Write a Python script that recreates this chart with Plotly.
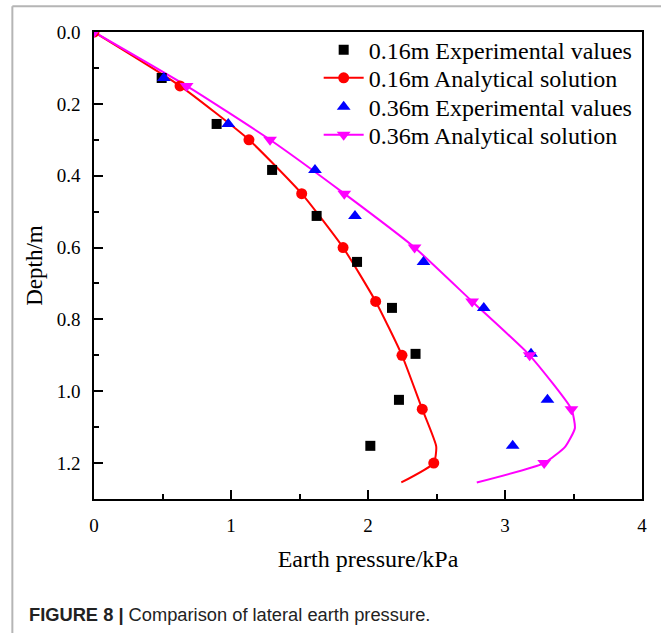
import plotly.graph_objects as go

# ---- data ----
exp16_depth = [0.128, 0.256, 0.384, 0.512, 0.640, 0.768, 0.896, 1.024, 1.152]
exp16_press = [0.494, 0.895, 1.300, 1.625, 1.920, 2.175, 2.347, 2.226, 2.017]

exp36_depth = [0.128, 0.256, 0.384, 0.512, 0.640, 0.768, 0.896, 1.024, 1.152]
exp36_press = [0.510, 0.980, 1.613, 1.905, 2.405, 2.845, 3.190, 3.310, 3.056]

# analytical solution: marked points
ana16_depth = [0.0, 0.15, 0.30, 0.45, 0.60, 0.75, 0.90, 1.05, 1.20]
ana16_press = [0.0, 0.628, 1.131, 1.516, 1.818, 2.056, 2.248, 2.396, 2.480]
ana36_depth = [0.0, 0.15, 0.30, 0.45, 0.60, 0.75, 0.90, 1.05, 1.20]
ana36_press = [0.0, 0.676, 1.285, 1.827, 2.340, 2.760, 3.180, 3.485, 3.286]

# analytical solution: full curve (includes unmarked vertices)
curve16_depth = [0.0, 0.15, 0.30, 0.45, 0.60, 0.75, 0.90, 1.05, 1.154, 1.20, 1.254]
curve16_press = [0.0, 0.628, 1.131, 1.516, 1.818, 2.056, 2.248, 2.396, 2.498, 2.480, 2.243]
curve36_depth = [0.0, 0.15, 0.30, 0.45, 0.60, 0.75, 0.90, 1.05, 1.103, 1.154, 1.20, 1.254]
curve36_press = [0.0, 0.676, 1.285, 1.827, 2.340, 2.760, 3.180, 3.485, 3.510, 3.440, 3.286, 2.794]

names = ["0.16m Experimental values", "0.16m Analytical solution",
         "0.36m Experimental values", "0.36m Analytical solution"]

RED = "#ff0000"
MAG = "#ff00ff"
BLUE = "#0000ff"
SERIF = "Liberation Serif"

fig = go.Figure()

# curves (no legend)
fig.add_trace(go.Scatter(x=curve16_press, y=curve16_depth, mode="lines",
                         line=dict(color=RED, width=2, shape="spline", smoothing=0.5),
                         showlegend=False, hoverinfo="skip"))
fig.add_trace(go.Scatter(x=curve36_press, y=curve36_depth, mode="lines",
                         line=dict(color=MAG, width=2, shape="spline", smoothing=0.5),
                         showlegend=False, hoverinfo="skip"))

# markers
fig.add_trace(go.Scatter(x=exp16_press, y=exp16_depth, mode="markers", name=names[0],
                         marker=dict(symbol="square", size=10, color="black"),
                         legend="legend"))
fig.add_trace(go.Scatter(x=ana16_press, y=ana16_depth, mode="markers", showlegend=False,
                         marker=dict(symbol="circle", size=11, color=RED)))
fig.add_trace(go.Scatter(x=[None], y=[None], mode="lines+markers", name=names[1],
                         line=dict(color=RED, width=2),
                         marker=dict(symbol="circle", size=11, color=RED), legend="legend2"))
fig.add_trace(go.Scatter(x=exp36_press, y=exp36_depth, mode="markers", name=names[2],
                         marker=dict(symbol="triangle-up", size=12, color=BLUE),
                         legend="legend3"))
fig.add_trace(go.Scatter(x=ana36_press, y=ana36_depth, mode="markers", showlegend=False,
                         marker=dict(symbol="triangle-down", size=12, color=MAG)))
fig.add_trace(go.Scatter(x=[None], y=[None], mode="lines+markers", name=names[3],
                         line=dict(color=MAG, width=2),
                         marker=dict(symbol="triangle-down", size=12, color=MAG), legend="legend4"))

axis_common = dict(
    showline=True, linecolor="black", linewidth=1.5, mirror=True,
    ticks="inside", ticklen=9, tickwidth=1.5, tickcolor="black",
    showgrid=False, zeroline=False,
    tickfont=dict(family=SERIF, size=19, color="black"),
    ticklabelstandoff=8,
)

fig.update_xaxes(range=[0, 4], dtick=1, tick0=0,
                 minor=dict(ticks="inside", ticklen=5, tickwidth=1.5, dtick=0.5,
                            tickcolor="black", showgrid=False),
                 title=dict(text="Earth pressure/kPa",
                            font=dict(family=SERIF, size=24, color="black"), standoff=16),
                 **axis_common)
fig.update_yaxes(range=[1.3, 0], dtick=0.2, tick0=0, tickformat=".1f",
                 minor=dict(ticks="inside", ticklen=5, tickwidth=1.5, dtick=0.1,
                            tickcolor="black", showgrid=False),
                 title=dict(text="Depth/m",
                            font=dict(family=SERIF, size=23, color="black"), standoff=8),
                 **axis_common)

def leg(ypos):
    return dict(x=0.41, y=ypos, xanchor="left", yanchor="middle",
                bgcolor="rgba(0,0,0,0)", borderwidth=0,
                font=dict(family=SERIF, size=24, color="black"),
                itemwidth=40)

fig.update_layout(
    width=661, height=633,
    margin=dict(l=94, r=19, t=32, b=134),
    paper_bgcolor="white", plot_bgcolor="white",
    legend=leg(0.961), legend2=leg(0.901), legend3=leg(0.839), legend4=leg(0.779),
    showlegend=True,
    shapes=[
        dict(type="line", xref="paper", yref="paper", x0=-0.149, x1=1.04, y0=1.055, y1=1.055,
             line=dict(color="#b5b5b5", width=2)),
        dict(type="line", xref="paper", yref="paper", x0=-0.149, x1=-0.149, y0=1.055, y1=-0.3,
             line=dict(color="#b5b5b5", width=2)),
    ],
    annotations=[
        dict(text="<b>FIGURE 8 |</b> Comparison of lateral earth pressure.",
             xref="paper", yref="paper", x=-0.122, y=-0.248, xanchor="left", yanchor="middle",
             showarrow=False, font=dict(family="Liberation Sans", size=18.3, color="#222222")),
    ],
)

fig.write_html("out.html")
